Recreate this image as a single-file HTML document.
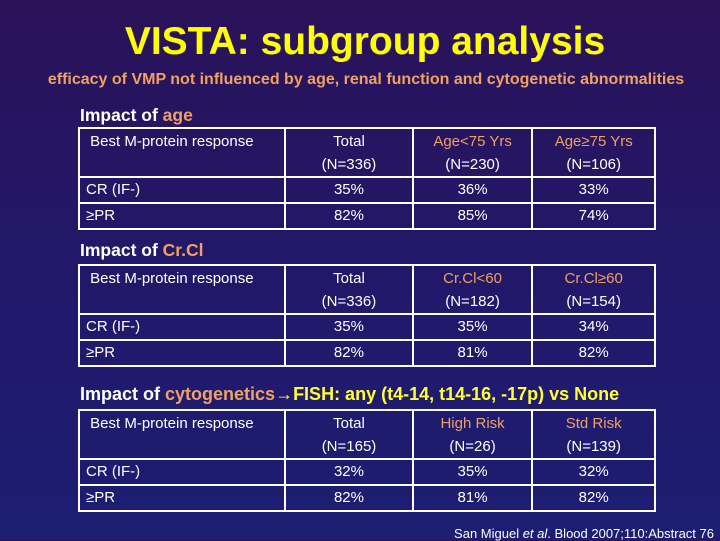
<!DOCTYPE html>
<html><head><meta charset="utf-8">
<style>
body{margin:0;width:720px;height:540px;overflow:hidden;background:linear-gradient(180deg,#2a1258 0%,#22186a 50%,#1c1e72 100%);font-family:"Liberation Sans",sans-serif;color:#fff;position:relative}
.abs{position:absolute}
#title{left:0;width:730px;top:20px;text-align:center;font-size:39px;font-weight:bold;color:#ffff00}
#sub{left:0;width:732px;top:71px;text-align:center;font-size:16px;font-weight:bold;color:#f0a060}
.h{left:80px;font-size:17.5px;font-weight:bold;color:#fff}
.o{color:#f0a060}.y{color:#ffff33}
table{position:absolute;left:78px;border-collapse:collapse;width:578px}
td{border:2px solid #fff;font-size:15px;padding:0;text-align:center;vertical-align:top}
td:first-child{text-align:left;padding-left:6px}
tr.hd td{height:44px;line-height:23px;padding-top:1px}
tr.r td{height:24px;line-height:24px}
.cite{right:6px;top:526px;font-size:13px;color:#fff}
</style></head><body>
<div id="title" class="abs">VISTA: subgroup analysis</div>
<div id="sub" class="abs">efficacy of VMP not influenced by age, renal function and cytogenetic abnormalities</div>

<div class="abs h" style="top:105px">Impact of <span class="o">age</span></div>
<table style="top:127px">
<colgroup><col style="width:207px"><col style="width:128px"><col style="width:120px"><col style="width:123px"></colgroup>
<tr class="hd"><td>&nbsp;Best M-protein response</td><td>Total<br>(N=336)</td><td class="o">Age&lt;75 Yrs<br><span style="color:#fff">(N=230)</span></td><td class="o">Age≥75 Yrs<br><span style="color:#fff">(N=106)</span></td></tr>
<tr class="r"><td>CR (IF-)</td><td>35%</td><td>36%</td><td>33%</td></tr>
<tr class="r"><td>≥PR</td><td>82%</td><td>85%</td><td>74%</td></tr>
</table>

<div class="abs h" style="top:240px">Impact of <span class="o">Cr.Cl</span></div>
<table style="top:264px">
<colgroup><col style="width:207px"><col style="width:128px"><col style="width:120px"><col style="width:123px"></colgroup>
<tr class="hd"><td>&nbsp;Best M-protein response</td><td>Total<br>(N=336)</td><td class="o">Cr.Cl&lt;60<br><span style="color:#fff">(N=182)</span></td><td class="o">Cr.Cl≥60<br><span style="color:#fff">(N=154)</span></td></tr>
<tr class="r"><td>CR (IF-)</td><td>35%</td><td>35%</td><td>34%</td></tr>
<tr class="r"><td>≥PR</td><td>82%</td><td>81%</td><td>82%</td></tr>
</table>

<div class="abs h" style="top:384px;font-size:18px">Impact of <span class="o">cytogenetics</span><span class="y">→FISH: any (t4-14, t14-16, -17p) vs None</span></div>
<table style="top:409px">
<colgroup><col style="width:207px"><col style="width:128px"><col style="width:120px"><col style="width:123px"></colgroup>
<tr class="hd"><td>&nbsp;Best M-protein response</td><td>Total<br>(N=165)</td><td class="o">High Risk<br><span style="color:#fff">(N=26)</span></td><td class="o">Std Risk<br><span style="color:#fff">(N=139)</span></td></tr>
<tr class="r"><td>CR (IF-)</td><td>32%</td><td>35%</td><td>32%</td></tr>
<tr class="r"><td>≥PR</td><td>82%</td><td>81%</td><td>82%</td></tr>
</table>

<div class="abs cite">San Miguel <i>et al</i>. Blood 2007;110:Abstract 76</div>
</body></html>
